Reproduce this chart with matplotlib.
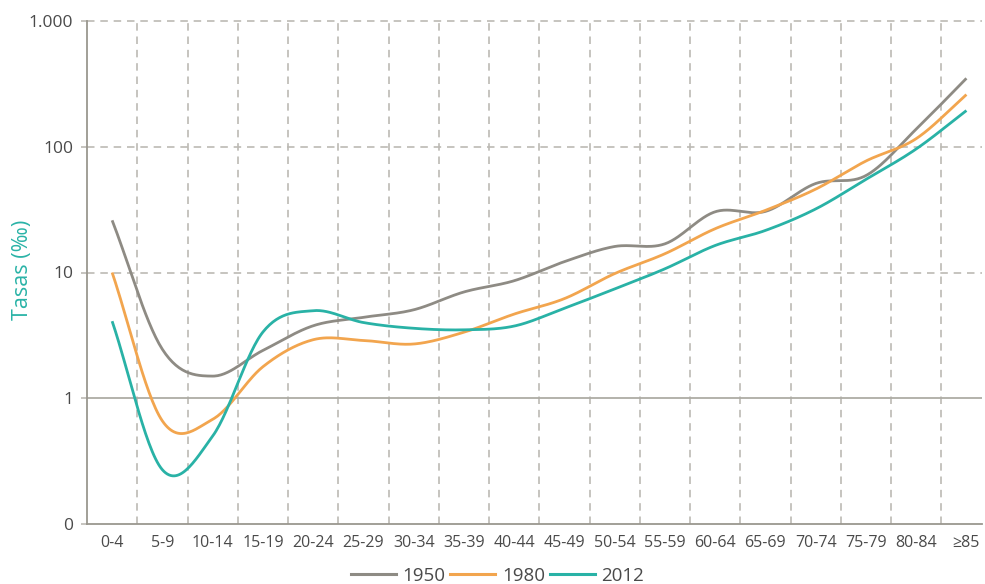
import numpy as np
import matplotlib
matplotlib.use("Agg")
import matplotlib.pyplot as plt
from matplotlib.lines import Line2D

plt.rcParams['font.family'] = ['Open Sans', 'DejaVu Sans']

categories = ["0-4", "5-9", "10-14", "15-19", "20-24", "25-29", "30-34", "35-39",
              "40-44", "45-49", "50-54", "55-59", "60-64", "65-69", "70-74",
              "75-79", "80-84", "≥85"]
rates_1950 = [26, 2.45, 1.5, 2.4, 3.77, 4.4, 5.05, 7.0, 8.6, 12.2, 16.1, 16.9,
              30.4, 30.6, 51, 59, 138, 350]
rates_1980 = [10.0, 0.66, 0.68, 1.78, 2.92, 2.88, 2.7, 3.35, 4.67, 6.2, 9.8, 14.1,
              22.3, 31.2, 46, 77, 116, 260]
rates_2012 = [4.1, 0.27, 0.50, 3.36, 4.97, 4.0, 3.6, 3.5, 3.75, 5.2, 7.4, 10.7,
              16.4, 21.6, 32, 55, 96, 194]
series_labels = ["1950", "1980", "2012"]
series_colors = ["#8e8b84", "#f2a54e", "#29b2a6"]
ytick_values = [0.1, 1, 10, 100, 1000]
ytick_labels = ["0", "1", "10", "100", "1.000"]


def catmull_rom(xs, ys, n=30):
    """Smooth curve through the points (computed in log space)."""
    x = np.asarray(xs, float)
    y = np.log10(np.asarray(ys, float))
    xp = np.concatenate([[2 * x[0] - x[1]], x, [2 * x[-1] - x[-2]]])
    yp = np.concatenate([[2 * y[0] - y[1]], y, [2 * y[-1] - y[-2]]])
    ox, oy = [], []
    t = np.linspace(0, 1, n, endpoint=False)
    for i in range(1, len(xp) - 2):
        def cr(a0, a1, a2, a3):
            return 0.5 * ((2 * a1) + (-a0 + a2) * t + (2 * a0 - 5 * a1 + 4 * a2 - a3) * t ** 2
                          + (-a0 + 3 * a1 - 3 * a2 + a3) * t ** 3)
        ox.append(cr(xp[i - 1], xp[i], xp[i + 1], xp[i + 2]))
        oy.append(cr(yp[i - 1], yp[i], yp[i + 1], yp[i + 2]))
    ox.append([x[-1]])
    oy.append([y[-1]])
    return np.concatenate(ox), 10 ** np.concatenate(oy)


fig = plt.figure(figsize=(9.85, 5.84), dpi=100)
ax = fig.add_axes([87 / 985, 1 - 524 / 584, (982 - 87) / 985, (524 - 21) / 584])

ax.set_yscale('log')
ax.set_ylim(0.1, 1000)
ax.set_xlim(-0.5, 17.31)

grid_color = "#bcbab4"
for k in range(len(categories) - 1):
    ax.axvline(k + 0.5, color=grid_color, lw=1.2, ls=(0, (4.5, 3.5)), zorder=1)
for v in [10, 100, 1000]:
    ax.axhline(v, color=grid_color, lw=1.2, ls=(0, (4.5, 3.5)), zorder=1, clip_on=False)
ax.axhline(1, color="#aeaca5", lw=1.3, zorder=1)

xs = np.arange(len(categories))
for vals, col in zip([rates_1950, rates_1980, rates_2012], series_colors):
    sx, sy = catmull_rom(xs, vals)
    ax.plot(sx, sy, color=col, lw=2.0, solid_capstyle='butt', zorder=3)

for s in ['top', 'right']:
    ax.spines[s].set_visible(False)
for s in ['left', 'bottom']:
    ax.spines[s].set_color("#9a978f")
    ax.spines[s].set_linewidth(1.3)

ax.set_yticks(ytick_values)
ax.set_yticklabels(ytick_labels)
ax.yaxis.set_minor_locator(matplotlib.ticker.NullLocator())
ax.tick_params(axis='y', length=4, width=1.2, color=grid_color, pad=6,
               labelsize=12.5, labelcolor="#4a4a4a")
ax.set_xticks(xs)
ax.set_xticklabels(categories)
ax.tick_params(axis='x', length=0, pad=8, labelsize=11.5, labelcolor="#4a4a4a")

ax.set_ylabel("Tasas (‰)", color="#2ab3a7", fontsize=15.5)
ax.yaxis.set_label_coords(-0.06, 0.505)

handles = [Line2D([0], [0], color=c, lw=2.2) for c in series_colors]
fig.legend(handles, series_labels, loc='lower center', bbox_to_anchor=(0.505, -0.03),
           ncol=3, frameon=False, fontsize=13.5, handlelength=2.4, handletextpad=0.35,
           columnspacing=0.25, labelcolor="#4a4a4a")

fig.savefig("out.png", dpi=100)
